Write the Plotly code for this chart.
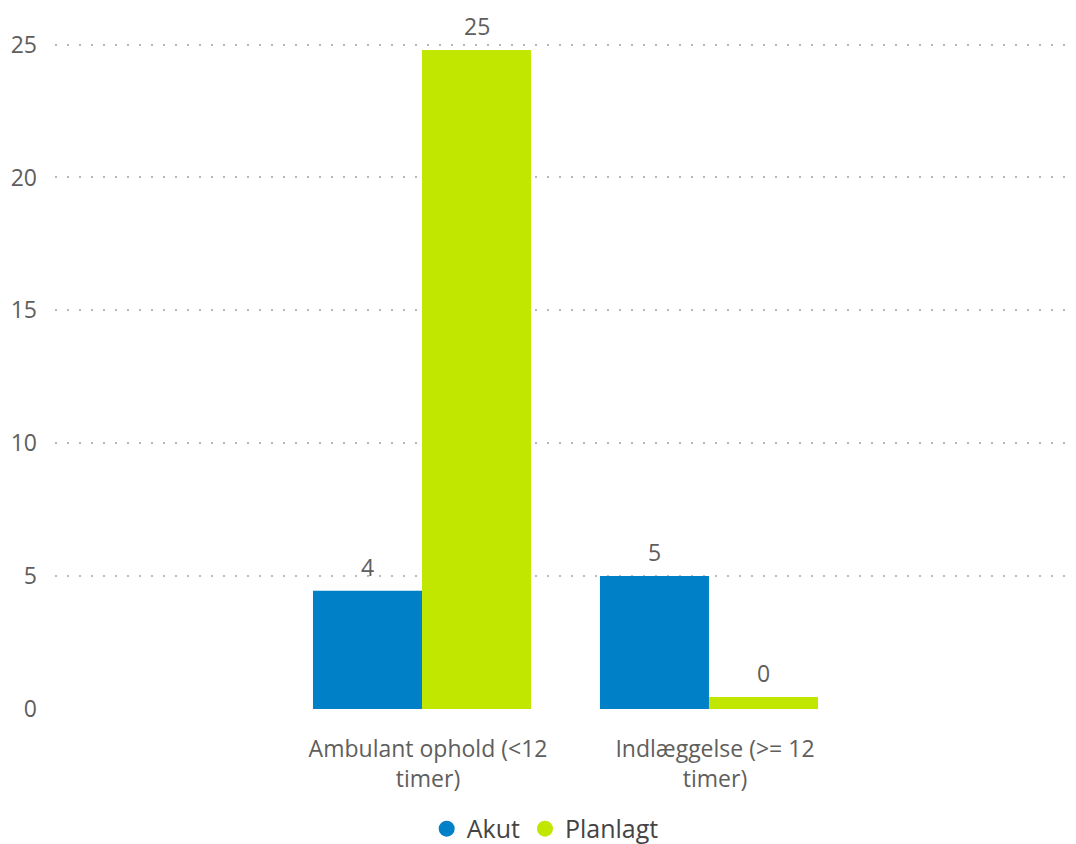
import plotly.graph_objects as go

categories = ["Ambulant ophold (&lt;12<br>timer)", "Indlæggelse (&gt;= 12<br>timer)"]
akut = [4.45, 5.0]
planlagt = [24.8, 0.45]
series_names = ["Akut", "Planlagt"]
colors = ["#0080C6", "#C1E600"]
y_ticks = [0, 5, 10, 15, 20, 25]

FONT = "Open Sans, Noto Sans, sans-serif"
GREY = "#605E5C"
BARGAP = 0.24
PX_PER_CAT = 287.0  # plot width / x-range span

fig = go.Figure()
series_vals = [akut, planlagt]
for name, vals, col in zip(series_names, series_vals, colors):
    fig.add_trace(go.Bar(
        x=categories, y=vals, name=name, marker=dict(color=col, line=dict(width=0)),
        showlegend=False, hoverinfo="skip",
    ))
for name, col in zip(series_names, colors):
    fig.add_trace(go.Scatter(
        x=[None], y=[None], mode="markers", name=name,
        marker=dict(symbol="circle", size=20, color=col), showlegend=True,
    ))

# data labels above each bar
n = len(series_names)
bar_px = (1 - BARGAP) * PX_PER_CAT / n
for i, vals in enumerate(series_vals):
    offset = (i - (n - 1) / 2) * bar_px
    for cat, v in zip(categories, vals):
        fig.add_annotation(x=cat, y=v, text=f"{v:.0f}", showarrow=False,
                           xshift=offset, yshift=24, yanchor="middle",
                           font=dict(family=FONT, size=23, color=GREY))

fig.update_layout(
    width=1068, height=836,
    margin=dict(l=47, r=0, t=10, b=135, autoexpand=False),
    paper_bgcolor="white", plot_bgcolor="white",
    barmode="group", bargap=BARGAP, bargroupgap=0,
    font=dict(family=FONT, size=23, color=GREY),
    legend=dict(orientation="h", xref="container", yref="container",
                x=0.503, y=0.018, xanchor="center", yanchor="middle",
                font=dict(family=FONT, size=25, color="#444444"),
                itemwidth=30, tracegroupgap=0),
    xaxis=dict(range=[-1.279, 2.279], showgrid=False, zeroline=False, showline=False,
               ticks="", ticklabelstandoff=24, ticklabelshift=6, automargin=False,
               tickfont=dict(family=FONT, size=23, color=GREY)),
    yaxis=dict(range=[0, 26], tickvals=y_ticks, showgrid=True, gridcolor="#B8B8B8",
               griddash="2px,10px", gridwidth=1.5, zeroline=False, showline=False,
               ticks="", ticklabelstandoff=17, automargin=False,
               tickfont=dict(family=FONT, size=23, color=GREY)),
)

fig.write_html("out.html")
